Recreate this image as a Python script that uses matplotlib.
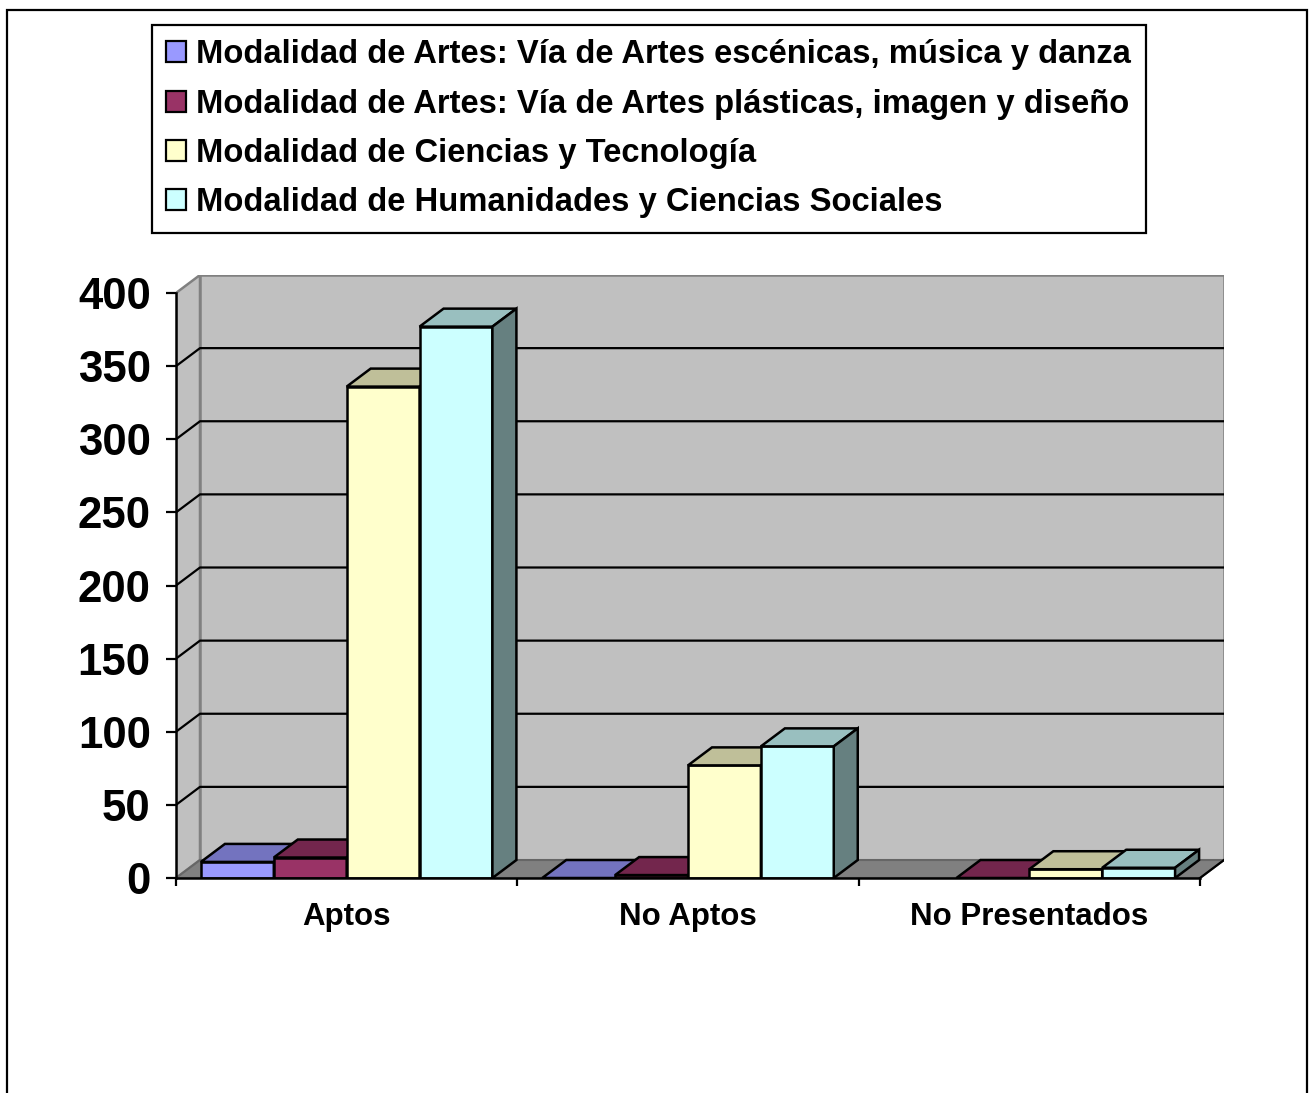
import numpy as np
import matplotlib.pyplot as plt
from matplotlib.patches import Polygon, Rectangle, Patch
from matplotlib.colors import to_rgb

plt.rcParams['font.family'] = ['Liberation Sans', 'DejaVu Sans']
plt.rcParams['font.weight'] = 'bold'

# Datos
categorias = ['Aptos', 'No Aptos', 'No Presentados']
series = ['Modalidad de Artes: Vía de Artes escénicas, música y danza',
          'Modalidad de Artes: Vía de Artes plásticas, imagen y diseño',
          'Modalidad de Ciencias y Tecnología',
          'Modalidad de Humanidades y Ciencias Sociales']
artes_escenicas = [11, 0, np.nan]
artes_plasticas = [14, 2, 0]
ciencias = [336, 77, 6]
humanidades = [377, 90, 7]
valores = [artes_escenicas, artes_plasticas, ciencias, humanidades]
colores = ['#9999FF', '#993366', '#FFFFCC', '#CCFFFF']
yticks = [0, 50, 100, 150, 200, 250, 300, 350, 400]

W, H = 1313, 1093
fig = plt.figure(figsize=(W / 100, H / 100), dpi=100)

# Profundidad del efecto 3D (en unidades de datos)
ymax = 400
px_x = 1024 / 3
px_y = 585 / ymax
dx = 24 / px_x
dy = 18 / px_y

ax = fig.add_axes([176 / W, 1 - 878 / H, 1048 / W, 603 / H])
ax.set_xlim(0, 3 + dx)
ax.set_ylim(0, ymax + dy)
ax.patch.set_visible(False)


def sombra(c, f):
    r, g, b = to_rgb(c)
    return (r * f, g * f, b * f)


# Paredes y suelo
gris = '#C0C0C0'
ax.add_patch(Polygon([(0, 0), (dx, dy), (dx, ymax + dy), (0, ymax)],
                     facecolor=gris, edgecolor='#808080', lw=1.8, zorder=1))
ax.add_patch(Rectangle((dx, dy), 3, ymax, facecolor=gris,
                       edgecolor='#808080', lw=1.8, zorder=1))
for v in yticks[1:-1]:
    ax.plot([0, dx, 3 + dx], [v, v + dy, v + dy], color='black', lw=1.6, zorder=2)
ax.add_patch(Polygon([(0, 0), (dx, dy), (3 + dx, dy), (3, 0)],
                     facecolor='#808080', edgecolor='#666666', lw=1.5, zorder=3))
ax.plot([3, 3 + dx], [0, dy], color='black', lw=1.6, zorder=3)

# Barras
w = 0.2135
off = (1 - 4 * w) / 2
lw_bar = 1.8
for j, vals in enumerate(valores):
    xs = np.array([i + off + j * w for i in range(3)])
    vals = np.array(vals, dtype=float)
    ok = ~np.isnan(vals)
    z = 10 + 3 * j
    ax.bar(xs[ok], vals[ok], width=w, align='edge', color=colores[j],
           edgecolor='black', lw=lw_bar, zorder=z)
    for x0, h in zip(xs[ok], vals[ok]):
        ax.add_patch(Polygon([(x0, h), (x0 + dx, h + dy), (x0 + w + dx, h + dy), (x0 + w, h)],
                             facecolor=sombra(colores[j], 0.75), edgecolor='black',
                             lw=lw_bar, zorder=z + 1))
        ax.add_patch(Polygon([(x0 + w, 0), (x0 + w + dx, dy), (x0 + w + dx, h + dy), (x0 + w, h)],
                             facecolor=sombra(colores[j], 0.5), edgecolor='black',
                             lw=lw_bar, zorder=z + 1))

# Ejes
for s in ['top', 'right']:
    ax.spines[s].set_visible(False)
ax.spines['left'].set_bounds(0, ymax)
ax.spines['bottom'].set_bounds(0, 3)
for s in ['left', 'bottom']:
    ax.spines[s].set_linewidth(1.8)
    ax.spines[s].set_zorder(50)

ax.set_yticks(yticks)
ax.set_yticklabels([str(t) for t in yticks], fontsize=31.5, fontweight='bold')
ax.tick_params(axis='y', direction='out', length=7.2, width=1.6, pad=11)

ax.set_xticks([0.5, 1.5, 2.5])
ax.set_xticklabels(categorias, fontsize=22.5, fontweight='bold')
ax.set_xticks([0, 1, 2, 3], minor=True)
ax.tick_params(axis='x', which='major', length=0, pad=17.5)
ax.tick_params(axis='x', which='minor', direction='out', length=6, width=1.6)

# Leyenda
handles = [Patch(facecolor=c, edgecolor='black', lw=1.6) for c in colores]
leg = fig.legend(handles, series, loc='upper left',
                 bbox_to_anchor=(152 / W, 1 - 25 / H),
                 prop={'size': 23.6, 'weight': 'bold'},
                 frameon=True, fancybox=False, framealpha=1,
                 edgecolor='black', handlelength=0.61, handleheight=0.61,
                 handletextpad=0.3, labelspacing=0.56, borderpad=0.44,
                 borderaxespad=0)
leg.get_frame().set_linewidth(1.6)

# Marco exterior
fig.add_artist(Rectangle((7 / W, -0.01), 1300 / W, 1.01 - 10 / H,
                         transform=fig.transFigure, fill=False,
                         edgecolor='black', lw=1.6))

fig.savefig('out.png', dpi=100)
